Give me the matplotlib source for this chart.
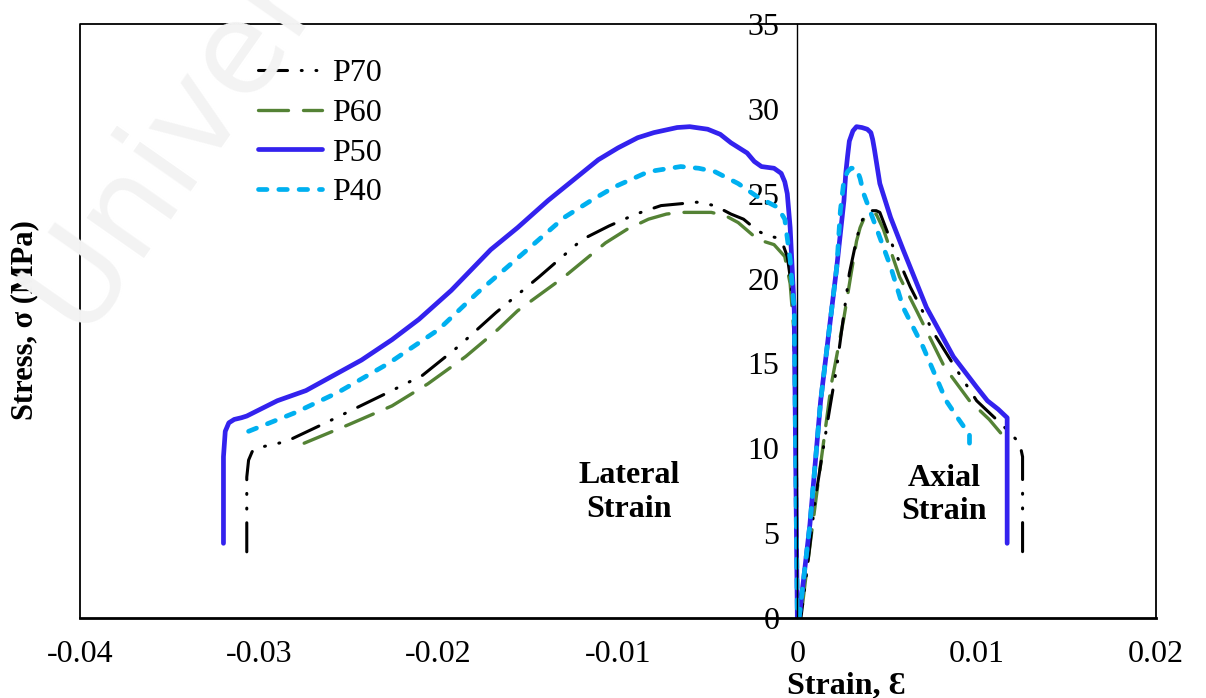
import matplotlib
matplotlib.use("Agg")
import matplotlib.pyplot as plt
from matplotlib.lines import Line2D

plt.rcParams['font.family'] = ['Liberation Serif', 'DejaVu Serif']

# ---------------- data (strain, stress) ----------------
series_names = ["P70", "P60", "P50", "P40"]

p70_x = [-0.0307, -0.0307, -0.0306, -0.0304, -0.0302, -0.0285, -0.0263, -0.0228, -0.0209,
         -0.0189, -0.0168, -0.0144, -0.0120, -0.0105, -0.0090, -0.0076, -0.0056, -0.0046,
         -0.0037, -0.0030, -0.0022, -0.0016, -0.0011, -0.0008, -0.00056, -0.0004, -0.0002,
         -0.0001, 0.0,
         0.0002, 0.00056, 0.0010, 0.0014, 0.0018, 0.0022, 0.0029, 0.0032, 0.0034, 0.0036,
         0.0038, 0.0041, 0.0044, 0.0046, 0.0054, 0.0063, 0.0076, 0.0089, 0.0100, 0.0115,
         0.0124, 0.01256, 0.01256]
p70_y = [3.9, 8.3, 9.3, 9.8, 10.0, 10.4, 11.5, 13.3, 14.3,
         16.0, 18.0, 20.1, 22.3, 23.1, 23.8, 24.3, 24.5, 24.3,
         23.8, 23.5, 22.8, 22.5, 22.4, 22.0, 21.3, 20.1, 18.0,
         10.0, 0.0,
         0.0, 3.0, 7.0, 9.7, 12.3, 14.8, 20.3, 21.8, 22.7, 23.4,
         23.8, 24.0, 24.0, 23.9, 21.7, 19.5, 16.8, 14.6, 12.8, 11.3,
         10.3, 9.5, 3.9]

p60_x = [-0.0275, -0.0250, -0.0226, -0.0206, -0.0185, -0.0167, -0.0156, -0.0130, -0.0107,
         -0.0095, -0.0083, -0.0073, -0.0065, -0.0048, -0.0040, -0.0033, -0.0022, -0.0013,
         -0.0007, -0.0004, -0.0002, -0.0001, 0.0,
         0.0002, 0.00045, 0.0011, 0.0019, 0.0026, 0.0030, 0.0033, 0.0035, 0.0037, 0.0039,
         0.0044, 0.0048, 0.0057, 0.0067, 0.0082, 0.0096, 0.0107, 0.0115]
p60_y = [10.3, 11.4, 12.5, 13.8, 15.4, 17.0, 18.1, 20.1, 22.1,
         22.9, 23.5, 23.8, 23.9, 23.9, 23.7, 23.3, 22.3, 22.0,
         21.3, 19.7, 17.0, 10.0, 0.0,
         0.0, 2.2, 7.5, 13.8, 17.7, 20.3, 22.2, 23.0, 23.5, 23.8,
         23.8, 22.9, 20.1, 18.0, 14.8, 12.8, 11.7, 10.7]

p50_x = [-0.0320, -0.0320, -0.0319, -0.0317, -0.0314, -0.0310, -0.0307, -0.0290, -0.0274,
         -0.0243, -0.0226, -0.0211, -0.0193, -0.0171, -0.0156, -0.0139, -0.0125, -0.0111,
         -0.0100, -0.0089, -0.0080, -0.0067, -0.0060, -0.0050, -0.0043, -0.0037, -0.0028,
         -0.0024, -0.0020, -0.0013, -0.0009, -0.0007, -0.00056, -0.0004, -0.00017, -0.0001,
         0.0,
         0.0001, 0.0007, 0.0013, 0.0022, 0.0026, 0.0027, 0.0028, 0.0029, 0.0031, 0.0033,
         0.0036, 0.0039, 0.0041, 0.0042, 0.0043, 0.0046, 0.0052, 0.0059, 0.0072, 0.0087,
         0.0100, 0.0106, 0.0112, 0.0117, 0.0117]
p50_y = [4.4, 9.5, 11.0, 11.5, 11.7, 11.8, 11.9, 12.8, 13.4,
         15.2, 16.4, 17.6, 19.3, 21.7, 23.0, 24.6, 25.8, 27.0,
         27.7, 28.3, 28.6, 28.9, 28.95, 28.8, 28.5, 28.0, 27.4,
         26.9, 26.6, 26.5, 26.2, 25.7, 25.0, 23.0, 18.1, 10.0,
         0.0,
         0.0, 5.5, 12.8, 20.7, 24.6, 26.2, 27.2, 28.1, 28.7, 28.95,
         28.9, 28.8, 28.6, 28.2, 27.6, 25.6, 23.6, 21.7, 18.3, 15.4,
         13.6, 12.8, 12.3, 11.8, 4.4]

p40_x = [-0.0306, -0.0280, -0.0256, -0.0228, -0.0200, -0.0178, -0.0167, -0.0156, -0.0130,
         -0.0115, -0.0102, -0.0083, -0.0065, -0.0055, -0.0046, -0.0033, -0.0022, -0.0011,
         -0.0007, -0.0004, -0.00017, -0.0001, 0.0,
         0.0001, 0.0007, 0.0013, 0.0022, 0.0024, 0.0026, 0.0028, 0.0030, 0.0033, 0.0035,
         0.0037, 0.0044, 0.0052, 0.0059, 0.0070, 0.0083, 0.0090, 0.0094, 0.0096, 0.0096]
p40_y = [11.0, 12.1, 13.3, 15.0, 17.0, 19.2, 20.2, 21.2, 23.6,
         24.6, 25.4, 26.3, 26.6, 26.5, 26.3, 25.6, 24.8, 24.2,
         23.5, 21.1, 18.1, 10.0, 0.0,
         0.0, 5.5, 12.8, 20.7, 24.0, 25.8, 26.3, 26.5, 26.5, 25.9,
         25.0, 23.0, 20.7, 18.3, 16.0, 12.8, 11.7, 11.1, 10.9, 10.3]

x_ticks = [-0.04, -0.03, -0.02, -0.01, 0, 0.01, 0.02]
x_tick_labels = ["-0.04", "-0.03", "-0.02", "-0.01", "0", "0.01", "0.02"]
y_ticks = [0, 5, 10, 15, 20, 25, 30, 35]
y_tick_labels = ["0", "5", "10", "15", "20", "25", "30", "35"]

# ---------------- figure ----------------
fig = plt.figure(figsize=(12.06, 6.98), dpi=100)
ax = fig.add_axes([80/1206, 1 - 618/698, 1076/1206, 594/698])
ax.patch.set_visible(False)

# watermark
fig.text(0.0, 0.50, "Univer", rotation=55, fontsize=92, color="#f3f3f3",
         family="DejaVu Sans", ha="left", va="bottom", zorder=0)

styles = {
    "P70": dict(color="black", lw=2.2, linestyle=(0, (9.5, 4.5, 0.3, 4.5, 0.3, 4.5)),
                dash_capstyle="round"),
    "P60": dict(color="#548235", lw=2.4, linestyle=(0, (9, 4.5)), dash_capstyle="round"),
    "P50": dict(color="#3322ee", lw=3.4, linestyle="-", solid_capstyle="round"),
    "P40": dict(color="#00b0f0", lw=3.4, linestyle=(0, (1.8, 2.5)), dash_capstyle="round"),
}
data = {"P70": (p70_x, p70_y), "P60": (p60_x, p60_y),
        "P50": (p50_x, p50_y), "P40": (p40_x, p40_y)}

for name in ["P60", "P70", "P50", "P40"]:
    xs, ys = data[name]
    ax.plot(xs, ys, solid_joinstyle="round", dash_joinstyle="round", **styles[name])

ax.set_xlim(-0.04, 0.02)
ax.set_ylim(0, 35)
ax.set_xticks(x_ticks)
ax.set_xticklabels(x_tick_labels)
ax.set_yticks(y_ticks)
ax.set_yticklabels(y_tick_labels)
ax.tick_params(axis="x", length=0, pad=16, labelsize=23)
ax.tick_params(axis="y", length=0, pad=13, labelsize=23)

# y axis at x = 0
ax.spines["left"].set_position(("data", 0))
ax.spines["left"].set_linewidth(1.0)
ax.spines["bottom"].set_linewidth(2.0)
ax.spines["top"].set_visible(False)
ax.spines["right"].set_visible(False)
# outer box
ax.plot([0, 0, 1, 1], [0, 1, 1, 0], transform=ax.transAxes, color="black",
        lw=1.3, clip_on=False, zorder=5)

# labels
ax.text(-0.051, 0.502, "Stress, σ (MPa)", transform=ax.transAxes, rotation=90,
        ha="center", va="center", fontsize=22, fontweight="bold")
ax.text(0.712, -0.114, "Strain, Ɛ", transform=ax.transAxes, ha="center",
        va="center", fontsize=23, fontweight="bold")
ax.text(-0.0094, 7.4, "Lateral\nStrain", ha="center", va="center",
        fontsize=23, fontweight="bold", linespacing=1.2)
ax.text(0.0082, 7.25, "Axial\nStrain", ha="center", va="center",
        fontsize=23, fontweight="bold", linespacing=1.2)

handles = [Line2D([], [], **styles[n]) for n in series_names]
leg = ax.legend(handles, series_names, loc="upper left",
                bbox_to_anchor=(0.1656, 0.941), frameon=False, fontsize=23,
                handlelength=2.0, handletextpad=0.3, labelspacing=0.32,
                borderpad=0, borderaxespad=0)

fig.savefig("out.png", dpi=100)
